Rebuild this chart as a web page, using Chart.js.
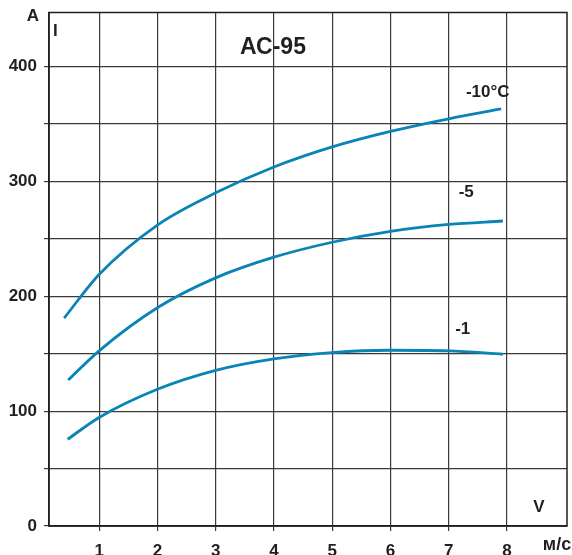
<!DOCTYPE html>
<html>
<head>
<meta charset="utf-8">
<script src="https://cdn.jsdelivr.net/npm/chart.js@4/dist/chart.umd.min.js"></script>
<style>
  html, body { margin: 0; padding: 0; background: #fff; }
  #wrap { width: 572px; height: 555px; }
</style>
</head>
<body>
<div id="wrap"><canvas id="acChart"></canvas></div>
<script>
// wind speed, m/s and allowed current, A  (АС-95)
const speed10 = [0.40, 1, 2, 3, 4, 5, 6, 7, 7.9];
const current10 = [181, 219, 262, 290, 312.5, 330, 343.5, 354.5, 363];
const speed5 = [0.47, 1, 2, 3, 4, 5, 6, 7, 7.93];
const current5 = [127, 152.5, 190, 216, 234, 247, 256.5, 262.5, 265.5];
const speed1 = [0.46, 1, 2, 3, 4, 5, 6, 7, 7.93];
const current1 = [75.5, 94.5, 119, 135.5, 145.5, 151, 153, 152.5, 149.5];

const seriesNames = ['-10°C', '-5', '-1'];
// where the curve names sit, in data units
const nameX = [7.67, 7.30, 7.24];
const nameY = [377.6, 290.1, 171.3];

const xTicks = [1, 2, 3, 4, 5, 6, 7, 8];
const yTicks = [0, 50, 100, 150, 200, 250, 300, 350, 400];

const ink = '#231f20';
const blue = '#0a84b6';
const font = 'bold 17px "Liberation Sans", Arial, sans-serif';

function pts(xs, ys) {
    return xs.map((v, i) => ({ x: v, y: ys[i] }));
}

const labelsPlugin = {
    id: 'labelsPlugin',
    afterDraw(chart) {
        const { ctx, chartArea: a, scales } = chart;
        ctx.save();
        // frame
        ctx.strokeStyle = ink;
        ctx.lineWidth = 1.5;
        ctx.strokeRect(a.left, a.top, a.right - a.left, a.bottom - a.top);

        ctx.fillStyle = ink;
        ctx.textAlign = 'center';
        ctx.textBaseline = 'middle';

        // curve names
        ctx.font = 'bold 17px "Liberation Sans", Arial, sans-serif';
        seriesNames.forEach((n, i) => {
            ctx.fillText(n, scales.x.getPixelForValue(nameX[i]), scales.y.getPixelForValue(nameY[i]));
        });

        // title
        ctx.font = 'bold 23px "Liberation Sans", Arial, sans-serif';
        ctx.fillText('АС-95', 273, 48);

        // axis captions
        ctx.font = font;
        ctx.fillText('А', 33, 16);
        ctx.fillText('V', 539, 507);
        ctx.font = 'bold 18px "Liberation Sans", Arial, sans-serif';
        ctx.fillText('м/с', 557, 545);
        ctx.textAlign = 'left';
        ctx.font = font;
        ctx.fillText('I', 53, 31);
        ctx.restore();
    }
};

const ctx = document.getElementById('acChart').getContext('2d');
const myChart = new Chart(ctx, {
    type: 'line',
    data: {
        datasets: [
            { label: seriesNames[0], data: pts(speed10, current10) },
            { label: seriesNames[1], data: pts(speed5, current5) },
            { label: seriesNames[2], data: pts(speed1, current1) }
        ].map(d => Object.assign(d, {
            borderColor: blue,
            borderWidth: 2.8,
            pointRadius: 0,
            fill: false,
            cubicInterpolationMode: 'monotone'
        }))
    },
    options: {
        responsive: true,
        maintainAspectRatio: false,
        animation: false,
        layout: { padding: { top: 12.5, right: 5, left: 0, bottom: 0 } },
        plugins: {
            legend: { display: false },
            tooltip: { enabled: false }
        },
        scales: {
            x: {
                type: 'linear',
                min: 0.14,
                max: 9.03,
                afterBuildTicks: s => { s.ticks = xTicks.map(v => ({ value: v })); },
                afterFit: s => {
                    s.height = 29;
                    s.paddingLeft = 0;
                    s.paddingRight = 0;
                },
                border: { display: true, color: ink, width: 1.5 },
                grid: { color: '#3a3a3a', lineWidth: 1.2, tickLength: 5 },
                ticks: {
                    color: ink,
                    padding: 10,
                    maxRotation: 0,
                    font: { family: '"Liberation Sans", Arial, sans-serif', size: 17, weight: 'bold' }
                }
            },
            y: {
                min: 0,
                max: 447,
                afterBuildTicks: s => { s.ticks = yTicks.map(v => ({ value: v })); },
                afterFit: s => {
                    s.width = 49;
                    s.paddingTop = 0;
                    s.paddingBottom = 0;
                },
                border: { display: true, color: ink, width: 1.5 },
                grid: { color: '#3a3a3a', lineWidth: 1.2, tickLength: 5 },
                ticks: {
                    color: ink,
                    padding: 7,
                    callback: v => (v % 100 === 0 ? v : ''),
                    font: { family: '"Liberation Sans", Arial, sans-serif', size: 17, weight: 'bold' }
                }
            }
        }
    },
    plugins: [labelsPlugin]
});
</script>
</body>
</html>
